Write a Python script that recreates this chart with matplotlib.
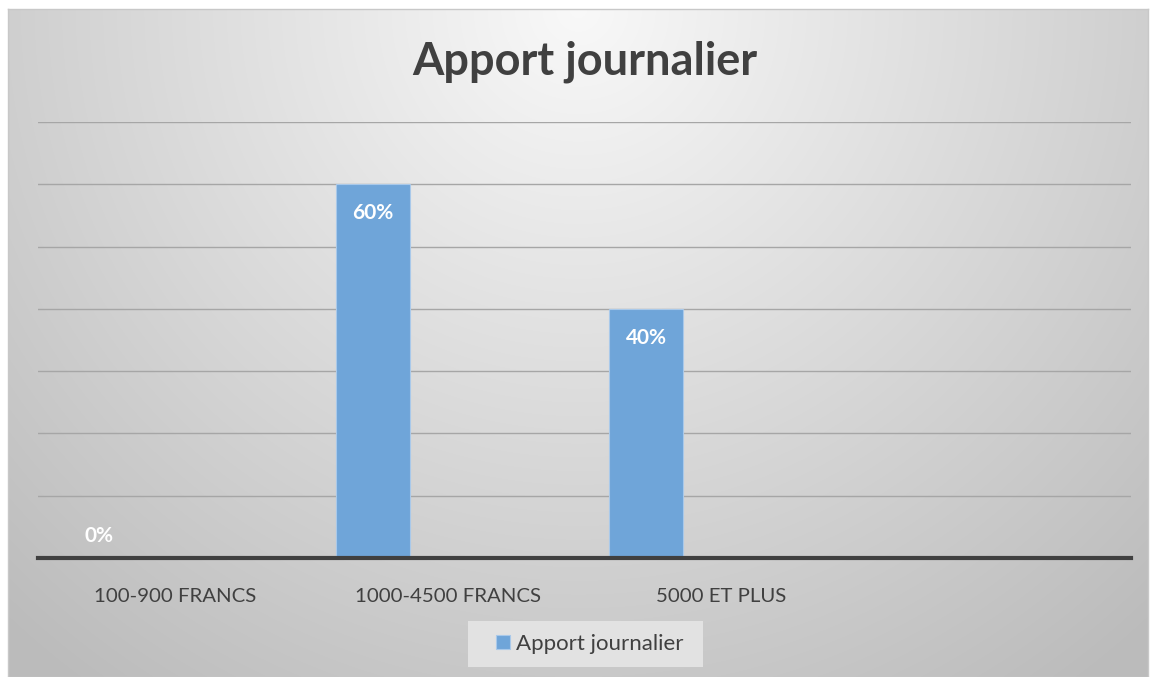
import matplotlib.pyplot as plt
import numpy as np
from matplotlib.patches import Rectangle

categories = ['100-900 FRANCS', '1000-4500 FRANCS', '5000 ET PLUS']
values = [0, 60, 40]
labels = ['0%', '60%', '40%']
series_name = 'Apport journalier'

plt.rcParams['font.family'] = ['Lato', 'DejaVu Sans']

fig = plt.figure(figsize=(11.54, 6.77), dpi=100)
fig.patch.set_facecolor('white')

# gradient background of the chart box
bg = fig.add_axes([8 / 1154, 0, 1140 / 1154, 668 / 677])
yy, xx = np.mgrid[0:668, 0:1140]
r = np.sqrt(((xx - 570) / 700.0) ** 2 + (yy / 700.0) ** 2)
shade = 0.975 - 0.2 * np.clip(r, 0, 1.2)
bg.imshow(np.dstack([shade] * 3), aspect='auto', interpolation='bilinear')
bg.set_xticks([])
bg.set_yticks([])
for s in bg.spines.values():
    s.set_color('#c8c8c8')
    s.set_linewidth(1)
# legend background box (drawn under the main axes)
bg.add_patch(Rectangle((468 / 1154, 1 - 667 / 677), 235 / 1154, 46 / 677,
                       transform=fig.transFigure, facecolor='#e2e2e2',
                       edgecolor='none', zorder=3))

ax = fig.add_axes([38 / 1154, 119 / 677, 1093 / 1154, 436 / 677])
ax.patch.set_alpha(0)
ax.set_xlim(-0.5, 3.5)
ax.set_ylim(0, 70)
ax.set_yticks(np.arange(0, 71, 10))
ax.yaxis.grid(True, color='#a6a6a6', linewidth=1)
ax.set_axisbelow(True)
ax.tick_params(left=False, labelleft=False, bottom=False)
for s in ['top', 'right', 'left']:
    ax.spines[s].set_visible(False)
ax.spines['bottom'].set_color('#404040')
ax.spines['bottom'].set_linewidth(3)

x = np.arange(len(categories))
bars = ax.bar(x - 0.275, values, width=0.27, color='#6fa5d9',
              edgecolor='#a9c9ea', linewidth=0.8, label=series_name, zorder=2)
for b, v, lab in zip(bars, values, labels):
    ax.text(b.get_x() + b.get_width() / 2, v - 4.6 if v > 5 else 3.6, lab,
            ha='center', va='center', color='white', fontsize=15,
            fontweight='bold', zorder=3)

ax.set_xticks(x)
ax.set_xticklabels(categories, fontsize=14.7, color='#404040')
ax.tick_params(axis='x', pad=18)

fig.text(585 / 1154, 1 - 62 / 677, 'Apport journalier', ha='center',
         va='center', fontsize=32.5, fontweight='bold', color='#404040')

leg = ax.legend(loc='center', bbox_to_anchor=(590 / 1154, 1 - 644 / 677),
                bbox_transform=fig.transFigure, fontsize=16, frameon=False,
                handlelength=0.6, handleheight=0.6, handletextpad=0.3,
                borderpad=0, borderaxespad=0, labelcolor='#404040')

fig.savefig('out.png', dpi=100)
